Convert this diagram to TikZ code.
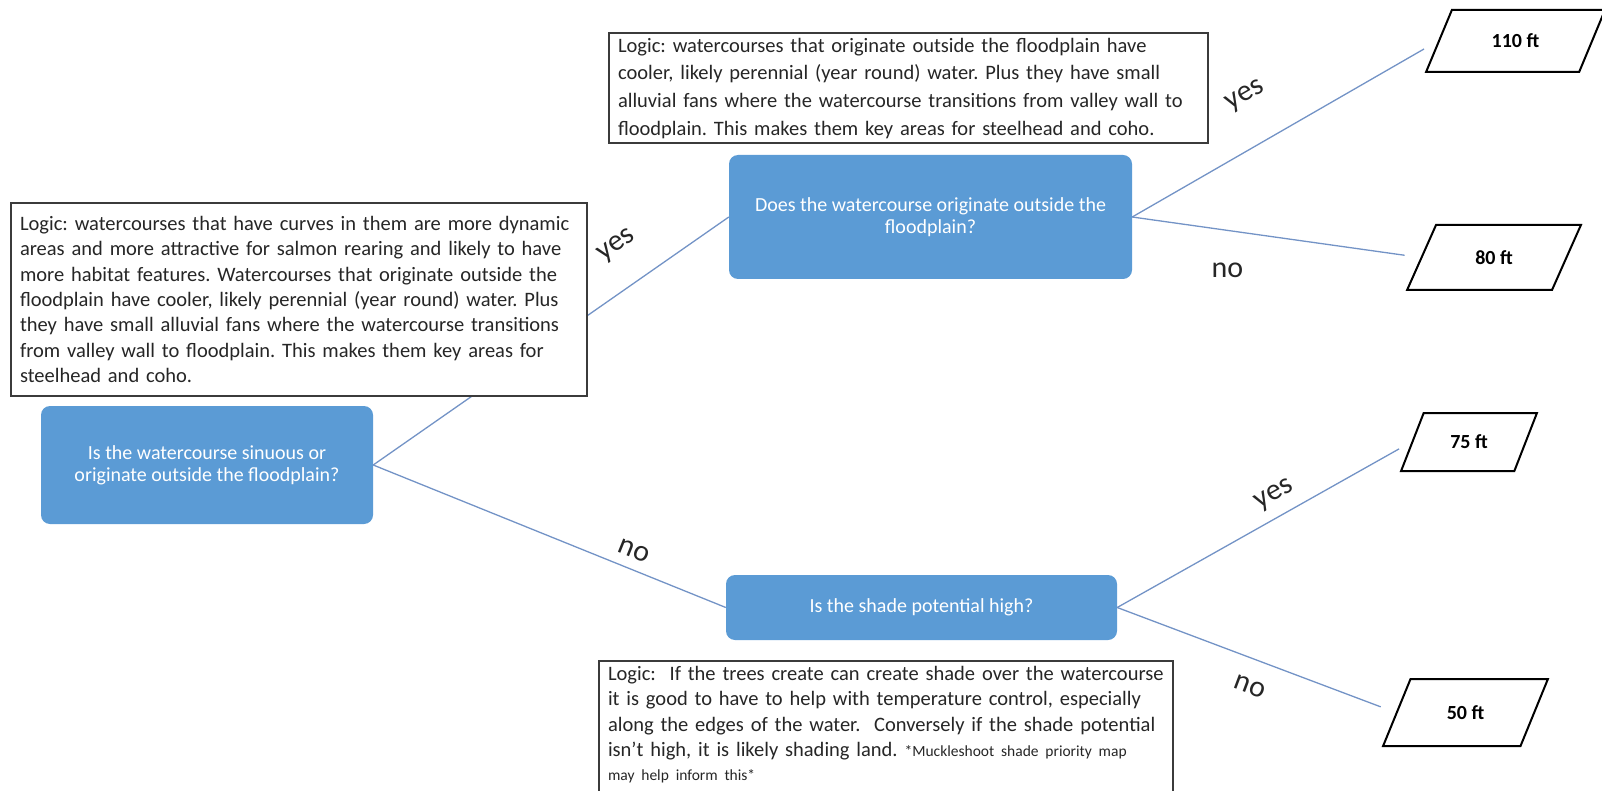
\documentclass[tikz,border=0pt]{standalone}
\usepackage{fontspec}
\setmainfont{Carlito}
\usetikzlibrary{shapes.geometric}
\definecolor{AskBlue}{HTML}{5B9BD5}
\definecolor{LinkBlue}{HTML}{7393C6}
\definecolor{BoxEdge}{HTML}{3B3B3B}
\definecolor{LabelText}{HTML}{262626}
\hyphenpenalty=10000

\begin{document}
\frenchspacing
\begin{tikzpicture}[x=1pt,y=-1pt,
    logic/.style={draw=BoxEdge,line width=2pt,fill=white,anchor=north west,
                  align=left,inner xsep=9pt,inner ysep=5pt,
                  font=\fontsize{20.5}{25.4}\selectfont,text=black!85},
    ask/.style={fill=AskBlue,rounded corners=9pt,text=white,align=center,
                font=\fontsize{20}{22}\selectfont},
    res/.style={trapezium,trapezium left angle=62,trapezium right angle=118,
                trapezium stretches=true,draw=black,line width=2pt,fill=white,
                font=\fontsize{20}{24}\selectfont\bfseries},
    link/.style={draw=LinkBlue,line width=1.3pt},
    lbl/.style={font=\fontsize{30}{32}\selectfont,text=LabelText,inner sep=0pt}]
  \useasboundingbox (0,0) rectangle (1602,791);
  % questions
  \node[ask,minimum width=332pt,minimum height=118pt] (sinuous) at (207,465) {Is the watercourse sinuous or\\originate outside the floodplain?};
  \node[ask,minimum width=403pt,minimum height=124pt] (origin) at (930.5,217) {Does the watercourse originate outside the\\floodplain?};
  \node[ask,minimum width=391pt,minimum height=65pt] (shade) at (921.5,607.5) {Is the shade potential high?};
  % buffer widths
  \node[res,minimum width=179pt,minimum height=62pt] (r110) at (1515.5,41) {110 ft};
  \node[res,minimum width=174pt,minimum height=65pt] (r80) at (1494,257.5) {80 ft};
  \node[res,minimum width=136pt,minimum height=58pt] (r75) at (1469,442) {75 ft};
  \node[res,minimum width=165pt,minimum height=67pt] (r50) at (1465.5,712.5) {50 ft};
  % branches
  \draw[link] (sinuous.east) -- node[lbl,sloped,pos=0.75,above=30pt] {yes} (origin.west);
  \draw[link] (sinuous.east) -- node[lbl,sloped,pos=0.72,above=10pt] {no} (shade.west);
  \draw[link,shorten >=16pt] (origin.east) -- node[lbl,sloped,pos=0.45,above=38pt] {yes} (r110.west);
  \draw[link,shorten >=16pt] (origin.east) -- node[lbl,pos=0.33,below=32pt] {no} (r80.west);
  \draw[link,shorten >=14pt] (shade.east) -- node[lbl,sloped,pos=0.57,above=10pt] {yes} (r75.west);
  \draw[link,shorten >=16pt] (shade.east) -- node[lbl,sloped,pos=0.51,below=19pt] {no} (r50.west);
  % reasoning
  \node[logic,text width=581pt,font=\fontsize{20.5}{27.6}\selectfont] (whyorigin) at (608,32)
    {Logic: watercourses that originate outside the floodplain have\\
     cooler, likely perennial (year round) water. Plus they have small\\
     alluvial fans where the watercourse transitions from valley wall to\\
     floodplain. This makes them key areas for steelhead and coho.};
  \node[logic,text width=558pt,minimum height=193pt] (whysinuous) at (10,202)
    {Logic: watercourses that have curves in them are more dynamic\\
     areas and more attractive for salmon rearing and likely to have\\
     more habitat features. Watercourses that originate outside the\\
     floodplain have cooler, likely perennial (year round) water. Plus\\
     they have small alluvial fans where the watercourse transitions\\
     from valley wall to floodplain. This makes them key areas for\\
     steelhead and coho.};
  \node[logic,text width=556pt] (whyshade) at (598,660)
    {Logic:\ \ If the trees create can create shade over the watercourse\\
     it is good to have to help with temperature control, especially\\
     along the edges of the water.\ \ Conversely if the shade potential\\
     isn’t high, it is likely shading land. {\fontsize{15.5}{18}\selectfont *Muckleshoot shade priority map}\\[-1.5pt]
     {\fontsize{15.5}{18}\selectfont may help inform this*}\rule[-24pt]{0pt}{0pt}};
\end{tikzpicture}
\end{document}
